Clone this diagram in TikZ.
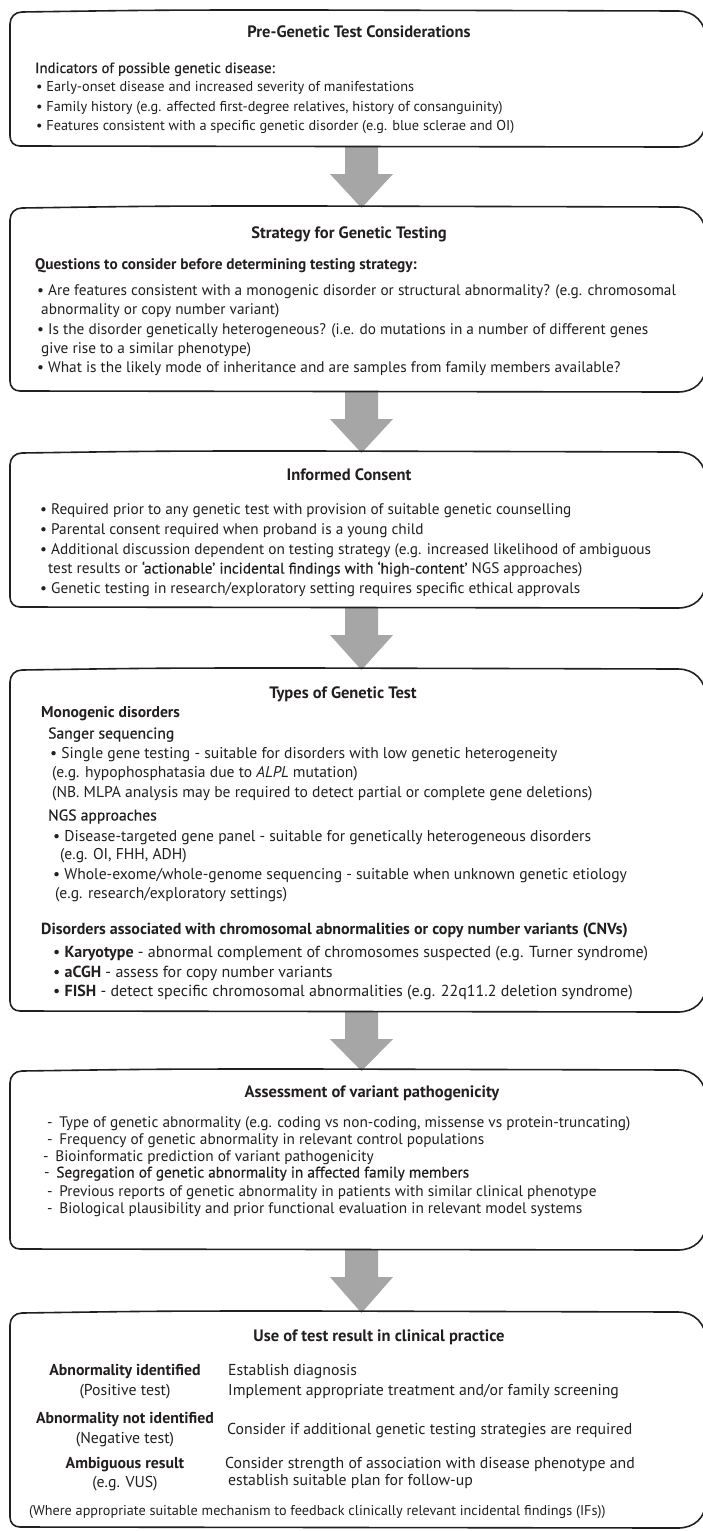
\documentclass[tikz,border=0pt]{standalone}
\usepackage{fontspec}
\setmainfont{PT Sans}
\newfontfamily\semib[FakeBold=0.5]{PT Sans}
\usetikzlibrary{calc}
\definecolor{arrowgray}{HTML}{A6A6A6}
\definecolor{ink}{HTML}{231F20}
\tikzset{
  boxnode/.style={inner sep=0pt, outer sep=0pt, minimum width=696pt},
  boxline/.style={line width=1.6pt, draw=ink, line join=round},
  ttl/.style={anchor=base, inner sep=0pt, font=\bfseries\fontsize{16.5}{19}\selectfont, text=ink},
  txtA/.style={anchor=base west, inner sep=0pt, font=\fontsize{14.3}{17}\selectfont, text=ink},
  txtB/.style={anchor=base west, inner sep=0pt, font=\fontsize{15.3}{18}\selectfont, text=ink},
  txtE/.style={anchor=base west, inner sep=0pt, font=\fontsize{15.6}{18}\selectfont, text=ink},
  txtF/.style={anchor=base west, inner sep=0pt, font=\fontsize{16}{18}\selectfont, text=ink},
  txtC/.style={anchor=base west, inner sep=0pt, font=\fontsize{15.8}{18}\selectfont, text=ink},
  ctxtC/.style={anchor=base, inner sep=0pt, font=\fontsize{15.8}{18}\selectfont, text=ink},
  txtD/.style={anchor=base west, inner sep=0pt, font=\fontsize{14.2}{17}\selectfont, text=ink},
}
\newcommand\genbox[1]{%
  \draw[boxline] let \p1=(#1.north west), \p2=(#1.south east) in
    (\x1+12pt,\y1) .. controls (\x1+150pt,\y1+2pt) .. (\x1+300pt,\y1+2pt)
    -- (\x2-28pt,\y1+1pt) .. controls (\x2-12pt,\y1+1pt) and (\x2,\y1-10pt) .. (\x2,\y1-28pt)
    -- (\x2,\y2+28pt) .. controls (\x2,\y2+10pt) and (\x2-12pt,\y2) .. (\x2-28pt,\y2)
    -- (\x1+10pt,\y2+1pt) .. controls (\x1+4pt,\y2+1pt) and (\x1,\y2+5pt) .. (\x1,\y2+11pt)
    -- (\x1,\y1-12pt) .. controls (\x1,\y1-5pt) and (\x1+5pt,\y1) .. (\x1+12pt,\y1) -- cycle;}
\newcommand\genarrow[2]{%
  \fill[arrowgray] let \p1=(#1.south), \p2=(#2.north) in
    (\x1-13pt,\y1) -- (\x1+20pt,\y1) -- (\x1+20pt,\y1-27pt) -- (\x1+35pt,\y1-27pt)
    -- (\x1+3.5pt,\y2) -- (\x1-28pt,\y1-27pt) -- (\x1-13pt,\y1-27pt) -- cycle;}
\begin{document}
\begin{tikzpicture}[x=1pt,y=-1pt]
\useasboundingbox (0,0) rectangle (702,1531);
\fill[white] (0,0) rectangle (702,1531);

% box frames (invisible nodes)
\node[boxnode, minimum height=135pt] (box1) at (358,79.5) {};
\node[boxnode, minimum height=184pt] (box2) at (358,300) {};
\node[boxnode, minimum height=155pt] (box3) at (358,530.5) {};
\node[boxnode, minimum height=342pt] (box4) at (358,841) {};
\node[boxnode, minimum height=179pt] (box5) at (358,1160.5) {};
\node[boxnode, minimum height=215pt] (box6) at (358,1420.5) {};

\genarrow{box1}{box2}
\genarrow{box2}{box3}
\genarrow{box3}{box4}
\genarrow{box4}{box5}
\genarrow{box5}{box6}

\genbox{box1}
\genbox{box2}
\genbox{box3}
\genbox{box4}
\genbox{box5}
\genbox{box6}

% Box 1
\node[ttl] (t1) at (359,37.5) {Pre-Genetic Test Considerations};
\node[txtA, font=\fontsize{14.8}{17}\selectfont] (t1a) at (35,73) {\semib Indicators of possible genetic disease:};
\node[txtA] (t1b) at (36,91.5) {• Early-onset disease and increased severity of manifestations};
\node[txtA] (t1c) at (36,111) {• Family history (e.g. affected first-degree relatives, history of consanguinity)};
\node[txtA] (t1d) at (36,130.5) {• Features consistent with a specific genetic disorder (e.g. blue sclerae and OI)};

% Box 2
\node[ttl] (t2) at (349,238.5) {Strategy for Genetic Testing};
\node[txtB] (t2a) at (35,269.5) {\bfseries Questions to consider before determining testing strategy:};
\node[txtB] (t2b) at (37,295.5) {• Are features consistent with a monogenic disorder or structural abnormality? (e.g. chromosomal};
\node[txtB] (t2c) at (41,314.5) {abnormality or copy number variant)};
\node[txtB] (t2d) at (37,334.5) {• Is the disorder genetically heterogeneous? (i.e. do mutations in a number of different genes};
\node[txtB] (t2e) at (41,353.5) {give rise to a similar phenotype)};
\node[txtB] (t2f) at (37,372.5) {• What is the likely mode of inheritance and are samples from family members available?};

% Box 3
\node[ttl] (t3) at (349,480.5) {Informed Consent};
\node[txtB] (t3a) at (40,514.5) {• Required prior to any genetic test with provision of suitable genetic counselling};
\node[txtB] (t3b) at (40,534.5) {• Parental consent required when proband is a young child};
\node[txtB] (t3c) at (40,554.5) {• Additional discussion dependent on testing strategy (e.g. increased likelihood of ambiguous};
\node[txtB] (t3d) at (48,573.5) {test results or {\semib ‘actionable’ incidental findings with ‘high-content’} NGS approaches)};
\node[txtB] (t3e) at (40,593.5) {• Genetic testing in research/exploratory setting requires specific ethical approvals};

% Box 4
\node[ttl] (t4) at (343,698.5) {Types of Genetic Test};
\node[txtE] (t4a) at (41,717.5) {\bfseries Monogenic disorders};
\node[txtE] (t4b) at (48,738.5) {\semib Sanger sequencing};
\node[txtE] (t4c) at (50,758.5) {• Single gene testing - suitable for disorders with low genetic heterogeneity};
\node[txtE] (t4d) at (52,777.5) {(e.g. hypophosphatasia due to \textit{ALPL} mutation)};
\node[txtE] (t4e) at (52,797.5) {(NB. MLPA analysis may be required to detect partial or complete gene deletions)};
\node[txtE] (t4f) at (48,820.5) {\semib NGS approaches};
\node[txtE] (t4g) at (53,841.5) {• Disease-targeted gene panel - suitable for genetically heterogeneous disorders};
\node[txtE] (t4h) at (60,859.5) {(e.g. OI, FHH, ADH)};
\node[txtE] (t4i) at (53,879.5) {• Whole-exome/whole-genome sequencing - suitable when unknown genetic etiology};
\node[txtE] (t4j) at (55,898.5) {(e.g. research/exploratory settings)};
\node[txtF] (t4k) at (41,934.5) {\bfseries Disorders associated with chromosomal abnormalities or copy number variants (CNVs)};
\node[txtF] (t4l) at (53,957.5) {• \textbf{Karyotype} - abnormal complement of chromosomes suspected (e.g. Turner syndrome)};
\node[txtF] (t4m) at (53,977.5) {• \textbf{aCGH} - assess for copy number variants};
\node[txtF] (t4n) at (53,996.5) {• \textbf{FISH} - detect specific chromosomal abnormalities (e.g. 22q11.2 deletion syndrome)};

% Box 5
\node[ttl] (t5) at (372,1097.5) {Assessment of variant pathogenicity};
\node[txtB] (t5a) at (47,1127.5) {-\, Type of genetic abnormality (e.g. coding vs non-coding, missense vs protein-truncating)};
\node[txtB] (t5b) at (47,1144.5) {-\, Frequency of genetic abnormality in relevant control populations};
\node[txtB] (t5c) at (43,1161.5) {-\, Bioinformatic prediction of variant pathogenicity};
\node[txtB] (t5d) at (44,1177.5) {-\, {\semib Segregation of genetic abnormality in affected family members}};
\node[txtB] (t5e) at (47,1196.5) {-\, Previous reports of genetic abnormality in patients with similar clinical phenotype};
\node[txtB] (t5f) at (47,1213.5) {-\, Biological plausibility and prior functional evaluation in relevant model systems};

% Box 6
\node[ttl] (t6) at (379,1341.5) {Use of test result in clinical practice};
\node[ctxtC] (t6a) at (125,1375) {\bfseries Abnormality identified};
\node[ctxtC] (t6b) at (125,1395) {(Positive test)};
\node[ctxtC] (t6c) at (125,1423) {\bfseries Abnormality not identified};
\node[ctxtC] (t6d) at (125,1443) {(Negative test)};
\node[ctxtC] (t6e) at (125,1468) {\bfseries Ambiguous result};
\node[ctxtC] (t6f) at (125,1487) {(e.g. VUS)};
\node[txtC] (t6g) at (228,1375) {Establish diagnosis};
\node[txtC] (t6h) at (228,1395) {Implement appropriate treatment and/or family screening};
\node[txtC] (t6i) at (227,1434) {Consider if additional genetic testing strategies are required};
\node[txtC] (t6j) at (225,1468) {Consider strength of association with disease phenotype and};
\node[txtC] (t6k) at (228,1485) {establish suitable plan for follow-up};
\node[txtD] (t6l) at (29,1515.5) {(Where appropriate suitable mechanism to feedback clinically relevant incidental findings (IFs))};
\end{tikzpicture}
\end{document}
